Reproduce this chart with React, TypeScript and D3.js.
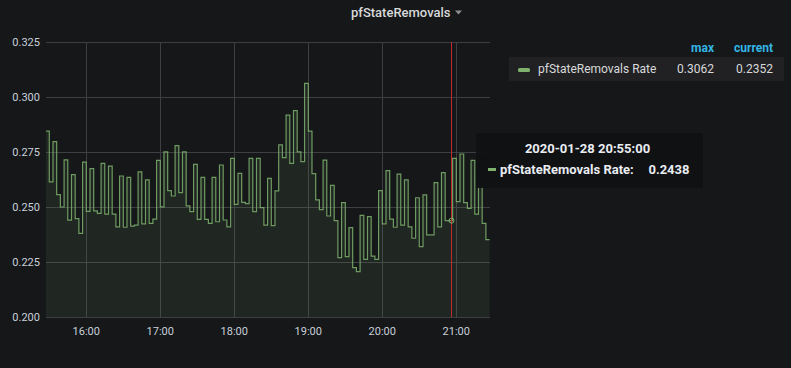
import React from 'react';
import * as d3 from 'd3';

// panel texts
const panelTitle = 'pfStateRemovals';
const seriesName = 'pfStateRemovals Rate';
const legendColumns = ['max', 'current'];
const legendStats = ['0.3062', '0.2352'];
const hoverLabel = '2020-01-28 20:55:00';
const hoverValue = 0.2438;

// samples every 3 minutes, first one at 15:27 UTC
const firstSample = Date.UTC(2020, 0, 28, 15, 27);
const sampleMinutes = 3;
const rateValues = [
  0.2845, 0.2614, 0.2797, 0.2556, 0.25, 0.2714, 0.244, 0.2647, 0.2447, 0.238,
  0.2704, 0.248, 0.2674, 0.2482, 0.2471, 0.2698, 0.2468, 0.2686, 0.2468, 0.241,
  0.2641, 0.2408, 0.2635, 0.2413, 0.2418, 0.266, 0.2423, 0.2623, 0.2426, 0.2445,
  0.2712, 0.2501, 0.2751, 0.2574, 0.255, 0.2779, 0.2565, 0.2751, 0.2505, 0.2479,
  0.2694, 0.2444, 0.2635, 0.2444, 0.2426, 0.2635, 0.2433, 0.2691, 0.2441, 0.241,
  0.2721, 0.2512, 0.2653, 0.2521, 0.2515, 0.2721, 0.2479, 0.2721, 0.2497, 0.2418,
  0.263, 0.2415, 0.2573, 0.2782, 0.2724, 0.2918, 0.2698, 0.2938, 0.2751, 0.2706,
  0.3062, 0.2845, 0.2652, 0.2532, 0.2488, 0.2713, 0.2459, 0.2598, 0.2438, 0.227,
  0.252, 0.2274, 0.2406, 0.2224, 0.2206, 0.2462, 0.2262, 0.2456, 0.2277, 0.2262,
  0.2574, 0.2423, 0.2665, 0.2445, 0.2408, 0.2649, 0.2418, 0.2623, 0.241, 0.2358,
  0.2542, 0.232, 0.2555, 0.2373, 0.2373, 0.2611, 0.241, 0.2656, 0.2438, 0.2438,
  0.2721, 0.2524, 0.2741, 0.252, 0.2494, 0.2712, 0.2468, 0.259, 0.2426, 0.2352,
  0.2352,
];
const yTicks = [0.2, 0.225, 0.25, 0.275, 0.3, 0.325];
const timeFrom = new Date(Date.UTC(2020, 0, 28, 15, 27, 20));
const timeTo = new Date(Date.UTC(2020, 0, 28, 21, 27, 20));
const crosshairTime = new Date(Date.UTC(2020, 0, 28, 20, 56, 0));

const W = 791;
const H = 368;
const green = '#7EB26D';
const font = 'Roboto, Helvetica, Arial, sans-serif';

type Pt = { t: Date; v: number };

export default function App() {
  const data: Pt[] = rateValues.map((v, i) => ({
    t: new Date(firstSample + i * sampleMinutes * 60000),
    v,
  }));

  const x = d3.scaleUtc().domain([timeFrom, timeTo]).range([46, 490]);
  const y = d3.scaleLinear().domain([0.2, 0.325]).range([317, 42]);
  const [x0, x1] = x.range();
  const [y0, y1] = y.range();

  const line = d3.line<Pt>().x(d => x(d.t)).y(d => y(d.v)).curve(d3.curveStepAfter);
  const area = d3.area<Pt>().x(d => x(d.t)).y0(y0).y1(d => y(d.v)).curve(d3.curveStepAfter);

  const hourTicks = x.ticks(d3.utcHour.every(1)!);
  const fmt = d3.utcFormat('%H:%M');
  const cx = Math.round(x(crosshairTime)) + 0.5;

  return (
    <svg width={W} height={H} style={{ position: 'absolute', left: 0, top: 0 }} fontFamily={font}>
      <defs>
        <clipPath id="plot">
          <rect x={x0} y={y1} width={x1 - x0} height={y0 - y1} />
        </clipPath>
      </defs>
      <rect width={W} height={H} fill="#161719" />

      {/* title */}
      <text x={351} y={17} fontSize={13} fontWeight={500} fill="#d8d9da">{panelTitle}</text>
      <path d="M455,10.5 L462,10.5 L458.5,14.5 Z" fill="#8e8e8e" />

      {/* grid */}
      {yTicks.map(t => (
        <line key={t} x1={x0} x2={x1} y1={Math.round(y(t)) + 0.5} y2={Math.round(y(t)) + 0.5} stroke="#3e3f42" />
      ))}
      {hourTicks.map(t => (
        <line key={+t} x1={Math.round(x(t)) + 0.5} x2={Math.round(x(t)) + 0.5} y1={y1} y2={y0} stroke="#3e3f42" />
      ))}

      {/* series */}
      <g clipPath="url(#plot)">
        <path d={area(data)!} fill={green} fillOpacity={0.1} />
        <path d={line(data)!} fill="none" stroke={green} strokeWidth={1.2} strokeOpacity={0.85} />
      </g>

      {/* axes labels */}
      {yTicks.map(t => (
        <text key={t} x={40} y={y(t)} dy="0.35em" textAnchor="end" fontSize={11} fill="#c7d0d9">
          {d3.format('.3f')(t)}
        </text>
      ))}
      {hourTicks.map(t => (
        <text key={+t} x={x(t)} y={334.5} textAnchor="middle" fontSize={11} fill="#c7d0d9">
          {fmt(t)}
        </text>
      ))}

      {/* crosshair */}
      <line x1={cx} x2={cx} y1={y1} y2={y0} stroke="#c0282c" />
      <circle cx={cx} cy={y(hoverValue)} r={2.5} fill="none" stroke={green} strokeWidth={1} />

      {/* legend */}
      {legendColumns.map((c, i) => (
        <text key={c} x={i === 0 ? 714 : 773} y={51.5} textAnchor="end" fontSize={12} fontWeight={700} fill="#33b5e5">
          {c}
        </text>
      ))}
      <rect x={509} y={57} width={275} height={24} fill="#212124" />
      <rect x={518} y={68} width={12} height={4} rx={1.5} fill={green} />
      <text x={538} y={73} fontSize={12} fill="#d8d9da">{seriesName}</text>
      {legendStats.map((s, i) => (
        <text key={i} x={i === 0 ? 714 : 773} y={73} textAnchor="end" fontSize={12} fill="#d8d9da">
          {s}
        </text>
      ))}

      {/* tooltip */}
      <rect x={476} y={133} width={227} height={55} fill="#111213" fillOpacity={0.96} />
      <text x={587.5} y={152.5} textAnchor="middle" fontSize={13} fontWeight={700} fill="#e9edf2">
        {hoverLabel}
      </text>
      <rect x={488} y={168} width={8} height={3} fill={green} />
      <text x={500} y={174} fontSize={13} fontWeight={700} fill="#e9edf2">{seriesName}:</text>
      <text x={689.5} y={174} textAnchor="end" fontSize={13} fontWeight={700} fill="#e9edf2">
        {hoverValue.toFixed(4)}
      </text>
    </svg>
  );
}
